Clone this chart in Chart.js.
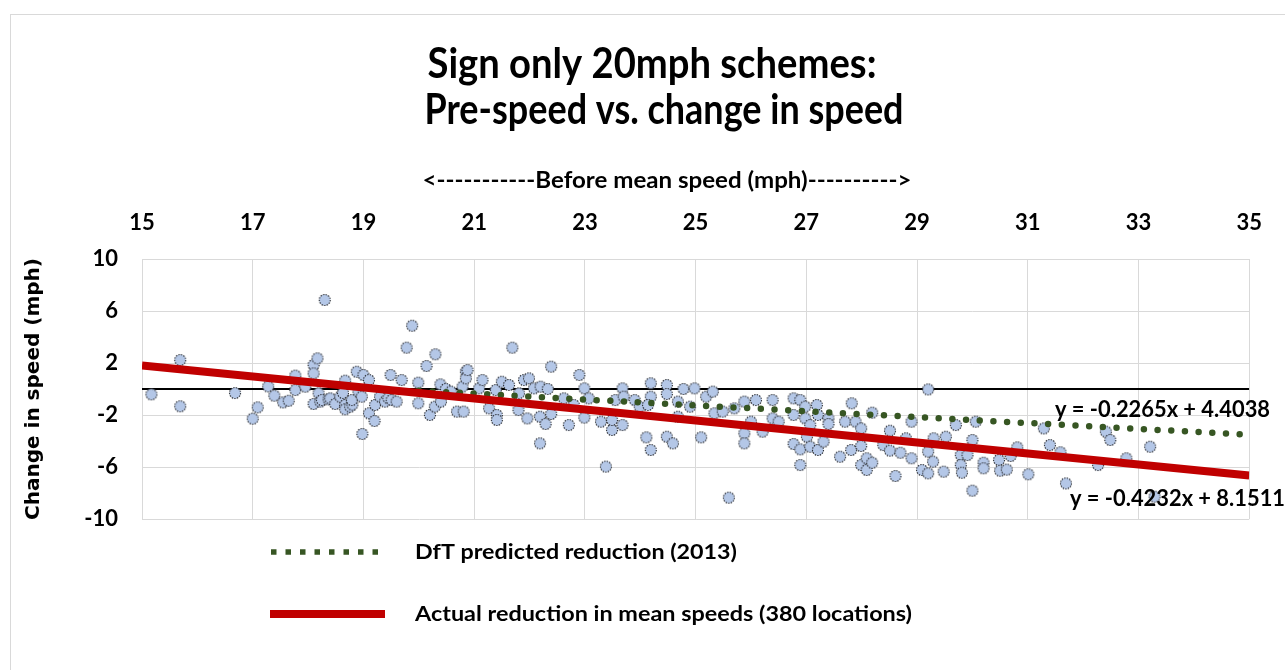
<!DOCTYPE html>
<html>
<head>
<meta charset="utf-8">
<script src="https://cdn.jsdelivr.net/npm/chart.js@4.4.0/dist/chart.umd.min.js"></script>
<style>
  html, body { margin: 0; padding: 0; background: #fff; }
  canvas { display: block; }
</style>
</head>
<body>
<canvas id="speedChart" width="1285" height="670"></canvas>
<script>
// Before mean speed (mph) for each location
const beforeSpeed = [
  15.17, 15.69, 15.69, 16.68, 17.0, 17.09, 17.28, 17.39, 17.55, 17.65,
  17.77, 17.77, 17.95, 18.1, 18.1, 18.1, 18.17, 18.19, 18.22, 18.25,
  18.3, 18.37, 18.4, 18.49, 18.58, 18.63, 18.67, 18.67, 18.67, 18.76,
  18.8, 18.79, 18.88, 18.91, 18.97, 18.98, 19.0, 19.1, 19.1, 19.2,
  19.21, 19.3, 19.39, 19.45, 19.49, 19.51, 19.6, 19.69, 19.78, 19.88,
  19.99, 19.99, 20.14, 20.2, 20.29, 20.3, 20.39, 20.4, 20.49, 20.58,
  20.69, 20.79, 20.81, 20.85, 20.85, 20.88, 21.09, 21.15, 21.27, 21.39,
  21.41, 21.41, 21.5, 21.63, 21.69, 21.8, 21.81, 21.9, 21.99, 21.96,
  22.08, 22.19, 22.19, 22.2, 22.29, 22.33, 22.39, 22.39, 22.62, 22.71,
  22.8, 22.9, 22.99, 22.99, 23.07, 23.29, 23.38, 23.49, 23.49, 23.55,
  23.68, 23.68, 23.7, 23.9, 23.99, 24.11, 24.19, 24.19, 24.19, 24.14,
  24.48, 24.48, 24.48, 24.59, 24.68, 24.68, 24.78, 24.9, 24.98, 25.1,
  25.19, 25.31, 25.34, 25.49, 25.6, 25.7, 25.88, 25.88, 25.88, 26.0,
  26.09, 26.21, 26.39, 26.39, 26.5, 26.77, 26.77, 26.77, 26.89, 26.89,
  26.89, 26.98, 26.98, 27.01, 27.07, 27.07, 27.19, 27.21, 27.21, 27.31,
  27.4, 27.4, 27.61, 27.7, 27.81, 27.82, 27.89, 27.99, 27.99, 27.99,
  28.09, 28.09, 28.19, 28.19, 28.39, 28.51, 28.51, 28.61, 28.7, 28.8,
  28.9, 28.9, 29.09, 29.2, 29.2, 29.2, 29.29, 29.3, 29.48, 29.52,
  29.7, 29.79, 29.79, 29.81, 29.91, 30.0, 30.0, 30.06, 30.2, 30.2,
  30.48, 30.5, 30.62, 30.69, 30.81, 31.01, 31.29, 31.4, 31.59, 31.69,
  32.27, 32.41, 32.49, 32.78, 33.21, 33.29
];
// Change in speed (mph) for the same locations
const speedChange = [
  -0.41, 2.23, -1.33, -0.31, -2.28, -1.41, 0.2, -0.51, -1.03, -0.9,
  1.03, -0.08, 0.18, 1.85, 1.2, -1.15, 2.36, -0.33, -0.97, -0.85,
  6.85, -0.8, -0.72, -1.15, -0.59, -0.3, 0.64, -1.23, -1.56, -1.36,
  -1.2, -0.85, 1.33, -0.2, -0.59, -3.46, 1.08, 0.69, -1.87, -2.46,
  -1.23, -0.59, -0.97, -0.7, 1.08, -0.85, -0.97, 0.69, 3.18, 4.87,
  0.49, -1.1, 1.77, -2.0, -1.36, 2.67, 0.36, -0.97, 0.0, -0.2,
  -1.74, 0.18, -1.74, 1.33, 0.82, 1.46, 0.05, 0.69, -1.49, -0.08,
  -2.0, -2.38, 0.56, 0.31, 3.18, -1.62, -0.33, 0.69, 0.82, -2.26,
  0.05, -2.13, -4.18, 0.18, -2.69, 0.0, 1.72, -1.92, -0.72, -2.77,
  -1.23, 1.08, 0.05, -2.2, -0.72, -2.51, -5.97, -3.15, -2.38, -0.85,
  0.05, -2.77, -0.59, -0.85, -1.36, -3.72, -4.69, 0.44, -0.59, -1.23,
  0.31, -0.38, -3.67, -4.18, -0.97, -2.13, 0.0, -1.36, 0.05, -3.72,
  -0.59, -0.2, -1.87, -1.74, -8.36, -1.49, -0.97, -3.41, -4.18, -2.51,
  -0.85, -3.28, -0.85, -2.26, -2.51, -0.72, -2.0, -4.23, -0.85, -4.64,
  -5.85, -1.36, -2.26, -3.67, -2.77, -4.44, -1.23, -2.0, -4.69, -4.05,
  -2.26, -2.69, -5.21, -2.51, -4.69, -1.1, -2.51, -3.03, -4.38, -5.85,
  -5.33, -6.23, -1.82, -5.67, -4.31, -3.21, -4.74, -6.69, -4.9, -3.79,
  -2.51, -5.33, -6.23, -0.03, -4.82, -6.49, -5.59, -3.79, -6.36, -3.67,
  -2.77, -5.08, -5.85, -6.44, -5.08, -3.92, -7.82, -2.51, -5.67, -6.1,
  -5.46, -6.28, -6.2, -5.15, -4.49, -6.56, -3.03, -4.31, -4.87, -7.26,
  -5.85, -3.28, -3.92, -5.33, -4.44, -8.28
];

// Trend lines (end points)
const actualTrendX = [15, 35];
const actualTrendY = [1.80, -6.66];
const dftTrendX = [20, 35];
const dftTrendY = [-0.13, -3.52];
const zeroLineX = [15, 35];
const zeroLineY = [0, 0];

// Tick labels
const xTicks = [15, 17, 19, 21, 23, 25, 27, 29, 31, 33, 35];
const yTicks = [-10, -6, -2, 2, 6, 10];

const toPoints = (xs, ys) => xs.map((x, i) => ({ x: x, y: ys[i] }));

// Marker: light blue dot with a dotted dark edge
const marker = document.createElement("canvas");
marker.width = 14;
marker.height = 14;
(function () {
  const m = marker.getContext("2d");
  m.beginPath();
  m.arc(7, 7, 5.5, 0, Math.PI * 2);
  m.fillStyle = "#b4c7e7";
  m.fill();
  m.setLineDash([1.4, 1.2]);
  m.lineWidth = 1.1;
  m.strokeStyle = "#2a2d33";
  m.stroke();
})();

const FONT = "Lato, 'Open Sans', sans-serif";

// Draw text stretched/condensed to a given width
function fitText(ctx, text, x, y, width, font, align) {
  ctx.font = font;
  const w = ctx.measureText(text).width;
  ctx.save();
  ctx.translate(x, y);
  ctx.scale(width / w, 1);
  ctx.textAlign = align || "left";
  ctx.textBaseline = "middle";
  ctx.fillStyle = "#000";
  ctx.fillText(text, 0, 0);
  ctx.restore();
}

const extras = {
  id: "extras",
  beforeDraw(chart) {
    const ctx = chart.ctx;
    ctx.save();
    ctx.fillStyle = "#fff";
    ctx.fillRect(0, 0, chart.width, chart.height);
    ctx.strokeStyle = "#d9d9d9";
    ctx.lineWidth = 1;
    ctx.strokeRect(10.5, 14.5, 1400, 800);
    ctx.restore();
  },
  afterDraw(chart) {
    const ctx = chart.ctx;
    fitText(ctx, "Sign only 20mph schemes:", 652, 64, 449, "bold 42px " + FONT, "center");
    fitText(ctx, "Pre-speed vs. change in speed", 664, 110, 479, "bold 42px " + FONT, "center");
    fitText(ctx, "<-----------Before mean speed (mph)---------->", 667, 181, 489, "bold 23px " + FONT, "center");

    fitText(ctx, "y = -0.2265x + 4.4038", 1055, 410, 215, "bold 22px " + FONT, "left");
    fitText(ctx, "y = -0.4232x + 8.1511", 1070, 499, 215, "bold 22px " + FONT, "left");

    // legend
    const dft = chart.data.datasets[1];
    const act = chart.data.datasets[0];
    ctx.save();
    ctx.strokeStyle = dft.borderColor;
    ctx.lineWidth = 5.5;
    ctx.setLineDash([5.5, 9]);
    ctx.beginPath();
    ctx.moveTo(271, 552);
    ctx.lineTo(385, 552);
    ctx.stroke();
    ctx.setLineDash([]);
    ctx.strokeStyle = act.borderColor;
    ctx.lineWidth = act.borderWidth;
    ctx.beginPath();
    ctx.moveTo(270, 614);
    ctx.lineTo(385, 614);
    ctx.stroke();
    ctx.restore();
    fitText(ctx, "DfT predicted reduction (2013)", 415, 552, 322, "bold 21px " + FONT, "left");
    fitText(ctx, "Actual reduction in mean speeds (380 locations)", 415, 614, 497, "bold 21px " + FONT, "left");
  }
};

new Chart(document.getElementById("speedChart"), {
  type: "scatter",
  data: {
    datasets: [
      {
        label: "Actual reduction in mean speeds (380 locations)",
        type: "line",
        data: toPoints(actualTrendX, actualTrendY),
        borderColor: "#c00000",
        borderWidth: 8,
        pointRadius: 0,
        order: 0
      },
      {
        label: "DfT predicted reduction (2013)",
        type: "line",
        data: toPoints(dftTrendX, dftTrendY),
        borderColor: "#375623",
        borderWidth: 6.5,
        borderDash: [0, 13.7],
        borderCapStyle: "round",
        pointRadius: 0,
        order: 1
      },
      {
        label: "Locations",
        data: toPoints(beforeSpeed, speedChange),
        pointStyle: marker,
        pointRadius: 6,
        order: 2
      },
      {
        label: "Zero",
        type: "line",
        data: toPoints(zeroLineX, zeroLineY),
        borderColor: "#000",
        borderWidth: 2,
        pointRadius: 0,
        order: 3
      }
    ]
  },
  options: {
    responsive: false,
    animation: false,
    layout: { padding: { left: 0, top: 0, right: 28, bottom: 151 } },
    plugins: {
      legend: { display: false },
      tooltip: { enabled: false }
    },
    scales: {
      x: {
        type: "linear",
        position: "top",
        min: 15,
        max: 35,
        afterBuildTicks: s => { s.ticks = xTicks.map(v => ({ value: v })); },
        afterFit: s => { s.height = 259; },
        grid: { color: "#d9d9d9", drawTicks: false },
        border: { color: "#d9d9d9" },
        ticks: { color: "#000", padding: 23, font: { family: FONT, size: 22, weight: "bold" } }
      },
      y: {
        min: -10,
        max: 10,
        afterBuildTicks: s => { s.ticks = yTicks.map(v => ({ value: v })); },
        afterFit: s => { s.width = 142; },
        grid: { color: "#d9d9d9", drawTicks: false },
        border: { color: "#d9d9d9" },
        ticks: { color: "#000", padding: 24, font: { family: FONT, size: 22, weight: "bold" } },
        title: {
          display: true,
          text: "Change in speed (mph)",
          color: "#000",
          padding: { top: 22, bottom: 0 },
          font: { family: "'DejaVu Sans'", size: 20, weight: "bold" }
        }
      }
    }
  },
  plugins: [extras]
});
</script>
</body>
</html>
